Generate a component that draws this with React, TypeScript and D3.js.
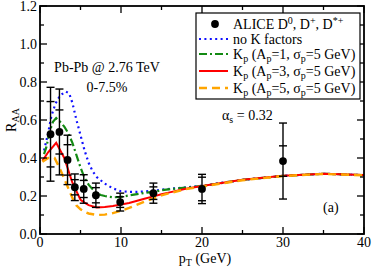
import React from "react";
import * as d3 from "d3";

// ALICE D meson points
const dataPt = [1.3, 2.4, 3.4, 4.3, 5.4, 6.9, 9.9, 14, 20, 30];
const dataRaa = [0.525, 0.537, 0.39, 0.246, 0.237, 0.204, 0.168, 0.215, 0.237, 0.384];
const errOuter = [0.247, 0.226, 0.13, 0.07, 0.075, 0.064, 0.047, 0.053, 0.077, 0.2];
const errInner = [0.172, 0.116, 0.08, 0.04, 0.045, 0.04, 0.028, 0.033, 0.062, 0.08];

// no K factors
const blueX = [0.5, 1.0, 1.4, 1.9, 2.5, 3.2, 3.6, 4.0, 4.5, 5.0, 5.5, 6.0, 6.5, 7.0, 8.0, 9.0, 10, 11, 12, 13, 14, 15, 16.5, 18, 20, 25, 30, 35, 40];
const blueY = [0.44, 0.53, 0.62, 0.685, 0.73, 0.75, 0.74, 0.69, 0.6, 0.52, 0.44, 0.375, 0.33, 0.3, 0.265, 0.24, 0.225, 0.222, 0.222, 0.224, 0.228, 0.233, 0.24, 0.245, 0.254, 0.285, 0.306, 0.317, 0.31];

// Kp (Ap=1)
const greenX = [0.5, 0.8, 1.2, 1.6, 2.0, 2.5, 3.0, 3.5, 4.0, 4.5, 5.0, 5.5, 6.0, 6.5, 7.0, 7.5, 8.0, 9.0, 10, 11, 12, 13, 14, 15, 16.5, 18, 20, 25, 30, 35, 40];
const greenY = [0.42, 0.46, 0.54, 0.59, 0.61, 0.59, 0.565, 0.53, 0.48, 0.415, 0.35, 0.295, 0.26, 0.235, 0.215, 0.205, 0.2, 0.193, 0.195, 0.203, 0.21, 0.217, 0.222, 0.23, 0.238, 0.244, 0.253, 0.285, 0.306, 0.317, 0.31];

// Kp (Ap=3)
const redX = [0.3, 1.0, 2.0, 3.0, 4.0, 5.0, 5.5, 6.0, 7.0, 8.0, 9.0, 10, 11, 12, 13, 14, 15, 16, 18, 20, 25, 30, 35, 40];
const redY = [0.385, 0.43, 0.48, 0.40, 0.27, 0.18, 0.165, 0.152, 0.14, 0.142, 0.147, 0.155, 0.163, 0.175, 0.187, 0.198, 0.209, 0.219, 0.238, 0.253, 0.285, 0.306, 0.317, 0.31];

// Kp (Ap=5)
const orangeX = [0.3, 1.0, 1.8, 2.5, 3.0, 3.5, 4.0, 4.5, 5.0, 5.5, 6.0, 7.0, 8.0, 9.0, 10, 11, 12, 13, 14, 15, 16, 18, 20, 25, 30, 35, 40];
const orangeY = [0.38, 0.40, 0.40, 0.34, 0.29, 0.24, 0.19, 0.15, 0.13, 0.117, 0.108, 0.10, 0.102, 0.11, 0.122, 0.137, 0.155, 0.172, 0.188, 0.203, 0.215, 0.236, 0.25, 0.283, 0.305, 0.316, 0.309];

const xMajor = [0, 10, 20, 30, 40];
const xMinor = [5, 15, 25, 35];
const yMajor = [0, 0.2, 0.4, 0.6, 0.8, 1.0, 1.2];
const yMinor = [0.1, 0.3, 0.5, 0.7, 0.9, 1.1];

const font = "'Liberation Serif', 'Times New Roman', 'DejaVu Serif', serif";

export default function App() {
  const left = 40, right = 364, top = 6, bottom = 234;
  const x = d3.scaleLinear().domain([0, 40]).range([left, right]);
  const y = d3.scaleLinear().domain([0, 1.2]).range([bottom, top]);

  const line = (xs: number[], ys: number[]) =>
    d3.line<number>().x((d) => x(xs[d])).y((d) => y(ys[d])).curve(d3.curveLinear)(xs.map((_, i) => i)) || "";

  const curves = [
    { xs: blueX, ys: blueY, color: "#1010ff", dash: "2,3.4", w: 2.2, label: "no K factors", ap: "" },
    { xs: greenX, ys: greenY, color: "#138a13", dash: "8,3,2,3", w: 2.2, label: "", ap: "1" },
    { xs: redX, ys: redY, color: "#ff0000", dash: "", w: 2, label: "", ap: "3" },
    { xs: orangeX, ys: orangeY, color: "#ffa500", dash: "8,5", w: 2.4, label: "", ap: "5" },
  ];

  const cap = 4;
  const legendRows = [24, 39, 54, 71, 88];

  return (
    <svg width={374} height={267} style={{ position: "fixed", left: 0, top: 0, background: "#fff", fontFamily: font }}>
      <defs>
        <clipPath id="plot">
          <rect x={left} y={top} width={right - left} height={bottom - top} />
        </clipPath>
      </defs>

      {/* curves */}
      <g clipPath="url(#plot)" fill="none">
        {curves.map((c, i) => (
          <path key={i} d={line(c.xs, c.ys)} stroke={c.color} strokeWidth={c.w} strokeDasharray={c.dash || undefined} />
        ))}
      </g>

      {/* data */}
      <g stroke="#000" strokeWidth={1.4}>
        {dataPt.map((p, i) => {
          const cx = x(p);
          const v = dataRaa[i];
          return (
            <g key={i}>
              <line x1={cx} x2={cx} y1={y(v - errOuter[i])} y2={y(v + errOuter[i])} />
              {[v - errOuter[i], v + errOuter[i], v - errInner[i], v + errInner[i]].map((e, j) => (
                <line key={j} x1={cx - cap} x2={cx + cap} y1={y(e)} y2={y(e)} />
              ))}
              <circle cx={cx} cy={y(v)} r={3.9} fill="#000" stroke="none" />
            </g>
          );
        })}
      </g>

      {/* frame + ticks */}
      <g stroke="#000" strokeWidth={1.3}>
        {xMajor.map((t) => (
          <g key={"xM" + t}>
            <line x1={x(t)} x2={x(t)} y1={bottom} y2={bottom - 7} />
            <line x1={x(t)} x2={x(t)} y1={top} y2={top + 7} />
          </g>
        ))}
        {xMinor.map((t) => (
          <g key={"xm" + t}>
            <line x1={x(t)} x2={x(t)} y1={bottom} y2={bottom - 4} />
            <line x1={x(t)} x2={x(t)} y1={top} y2={top + 4} />
          </g>
        ))}
        {yMajor.map((t) => (
          <g key={"yM" + t}>
            <line x1={left} x2={left + 7} y1={y(t)} y2={y(t)} />
            <line x1={right} x2={right - 7} y1={y(t)} y2={y(t)} />
          </g>
        ))}
        {yMinor.map((t) => (
          <g key={"ym" + t}>
            <line x1={left} x2={left + 4} y1={y(t)} y2={y(t)} />
            <line x1={right} x2={right - 4} y1={y(t)} y2={y(t)} />
          </g>
        ))}
        <rect x={left} y={top} width={right - left} height={bottom - top} fill="none" strokeWidth={1.8} />
      </g>

      {/* tick labels */}
      <g fontSize={14} fill="#000">
        {xMajor.map((t) => (
          <text key={t} x={x(t)} y={bottom + 13} textAnchor="middle">{t}</text>
        ))}
        {yMajor.map((t) => (
          <text key={t} x={left - 3} y={y(t) + 5} textAnchor="end">{d3.format(".1f")(t)}</text>
        ))}
      </g>

      {/* axis titles */}
      <text x={205} y={263} fontSize={14} textAnchor="middle">
        p<tspan dy={3} fontSize={10}>T</tspan><tspan dy={-3}> (GeV)</tspan>
      </text>
      <text transform="translate(16,120) rotate(-90)" fontSize={14} textAnchor="middle">
        R<tspan dy={3} fontSize={10}>AA</tspan>
      </text>

      {/* annotations */}
      <text x={107} y={72} fontSize={14} textAnchor="middle">Pb-Pb @ 2.76 TeV</text>
      <text x={107} y={92} fontSize={14} textAnchor="middle">0-7.5%</text>
      <text x={222} y={120} fontSize={14}>
        α<tspan dy={3} fontSize={10}>s</tspan><tspan dy={-3}> = 0.32</tspan>
      </text>
      <text x={323} y={212} fontSize={14}>(a)</text>

      {/* legend */}
      <rect x={196} y={13} width={164} height={86} fill="#fff" stroke="#000" strokeWidth={1.2} />
      <circle cx={215} cy={legendRows[0]} r={3.9} fill="#000" />
      <text x={233} y={legendRows[0] + 4.5} fontSize={14}>
        ALICE D<tspan dy={-5} fontSize={10}>0</tspan><tspan dy={5}>, D</tspan>
        <tspan dy={-5} fontSize={10}>+</tspan><tspan dy={5}>, D</tspan>
        <tspan dy={-5} fontSize={10}>*+</tspan>
      </text>
      {curves.map((c, i) => {
        const ly = legendRows[i + 1];
        return (
          <g key={i}>
            <line x1={199} x2={228} y1={ly} y2={ly} stroke={c.color} strokeWidth={c.w} strokeDasharray={c.dash || undefined} />
            {c.label ? (
              <text x={233} y={ly + 4.5} fontSize={14}>{c.label}</text>
            ) : (
              <text x={233} y={ly + 4.5} fontSize={14}>
                K<tspan dy={3} fontSize={10}>p</tspan><tspan dy={-3}> (A</tspan>
                <tspan dy={3} fontSize={10}>p</tspan><tspan dy={-3}>={c.ap}, σ</tspan>
                <tspan dy={3} fontSize={10}>p</tspan><tspan dy={-3}>=5 GeV)</tspan>
              </text>
            )}
          </g>
        );
      })}
    </svg>
  );
}
